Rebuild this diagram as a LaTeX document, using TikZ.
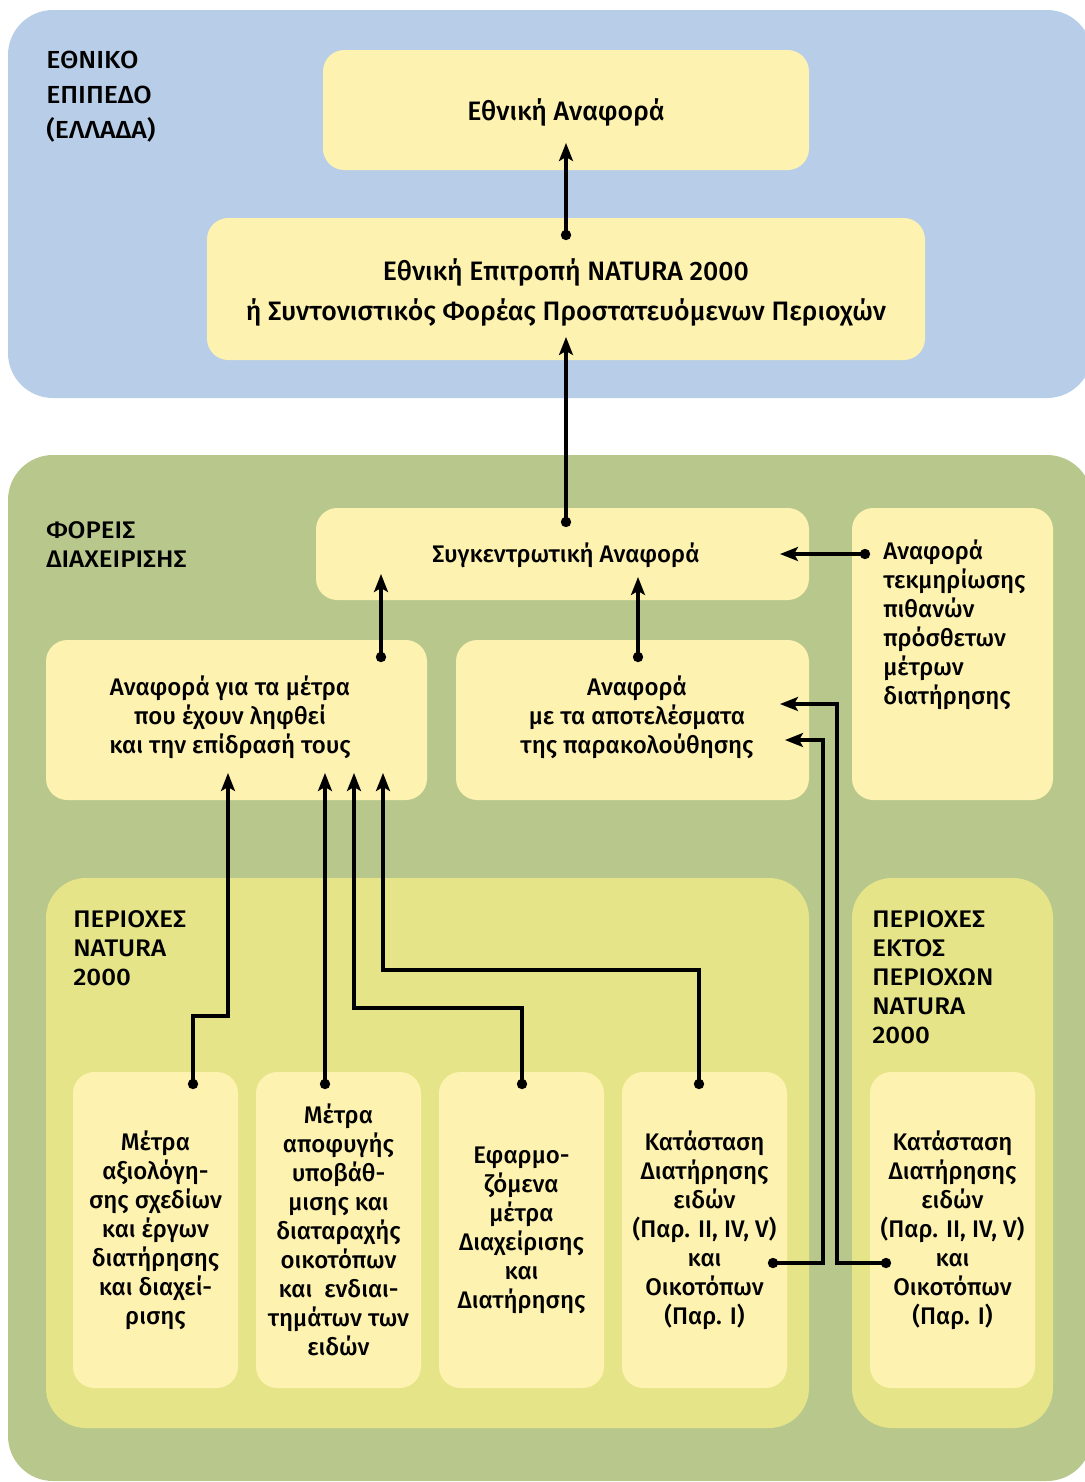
\documentclass[tikz,border=0pt]{standalone}
\usepackage{fontspec}
\setmainfont{Fira Sans}[UprightFont={* Medium}]
\newfontfamily\capsfont{Fira Sans}[UprightFont={* Medium}, FakeStretch=1.08]
\usetikzlibrary{arrows.meta}
\definecolor{cblue}{RGB}{184,205,232}
\definecolor{cgreen}{RGB}{184,200,140}
\definecolor{clime}{RGB}{229,228,136}
\definecolor{cbox}{RGB}{254,242,176}
\newcommand\txtfont{\fontsize{18}{21.75}\selectfont}
\newcommand\capfont{\capsfont\fontsize{18}{21.75}\selectfont}
\newcommand\topfont{\fontsize{20}{30}\selectfont}
\begin{document}
\begin{tikzpicture}[x=0.75pt,y=-0.75pt,
  sub/.style={fill=clime, inner sep=0pt, rounded corners=30pt},
  box/.style={fill=cbox, inner sep=0pt, rounded corners=16pt, align=center, font=\txtfont},
  lbl/.style={inner sep=0pt, align=left, font=\capfont},
  ctext/.style={inner sep=0pt, align=center, font=\txtfont},
  dot/.style={circle, fill=black, inner sep=0pt, minimum size=7.8pt},
  conn/.style={line width=2.3pt, -{Stealth[length=13.5pt,width=10.5pt,inset=3pt]}}
]
\useasboundingbox (0,0) rectangle (1085,1482);
% background regions
\fill[cblue, rounded corners=33.75pt] (8,10) rectangle (1092,398);
\fill[cgreen, rounded corners=33.75pt] (8,455) rectangle (1092,1481);
% sub regions
\node[sub, minimum width=763*0.75pt, minimum height=550*0.75pt] (nreg) at (427.5,1153) {};
\node[sub, minimum width=201*0.75pt, minimum height=550*0.75pt] (oreg) at (952.5,1153) {};
% boxes
\node[box, minimum width=486*0.75pt, minimum height=120*0.75pt] (nat) at (566,110) {};
\node[box, minimum width=718*0.75pt, minimum height=142*0.75pt] (com) at (566,289) {};
\node[box, minimum width=493*0.75pt, minimum height=92*0.75pt] (sum) at (562.5,554) {};
\node[box, minimum width=201*0.75pt, minimum height=292*0.75pt] (doc) at (952.5,654) {};
\node[box, minimum width=381*0.75pt, minimum height=160*0.75pt] (mea) at (236.5,720) {};
\node[box, minimum width=353*0.75pt, minimum height=160*0.75pt] (mon) at (632.5,720) {};
\node[box, minimum width=165*0.75pt, minimum height=316*0.75pt] (b1) at (155.5,1230)
  {Μέτρα\\αξιολόγη-\\σης σχεδίων\\και έργων\\διατήρησης\\και διαχεί-\\ρισης};
\node[box, minimum width=165*0.75pt, minimum height=316*0.75pt] (b2) at (338.5,1230)
  {Μέτρα\\αποφυγής\\υποβάθ-\\μισης και\\διαταραχής\\οικοτόπων\\και~ ενδιαι-\\τημάτων των\\ειδών};
\node[box, minimum width=165*0.75pt, minimum height=316*0.75pt] (b3) at (521.5,1230)
  {Εφαρμο-\\ζόμενα\\μέτρα\\Διαχείρισης\\και\\Διατήρησης};
\node[box, minimum width=165*0.75pt, minimum height=316*0.75pt] (b4) at (704.5,1230)
  {Κατάσταση\\Διατήρησης\\ειδών\\(Παρ. II, IV, V)\\και\\Οικοτόπων\\(Παρ. I)};
\node[box, minimum width=165*0.75pt, minimum height=316*0.75pt] (b5) at (952.5,1230)
  {Κατάσταση\\Διατήρησης\\ειδών\\(Παρ. II, IV, V)\\και\\Οικοτόπων\\(Παρ. I)};
% texts
\node[ctext, font=\topfont] (tnat) at (566,112) {Εθνική Αναφορά};
\node[ctext, font=\topfont] (tcom) at (566,292)
  {Εθνική Επιτροπή NATURA 2000\\ή Συντονιστικός Φορέας Προστατευόμενων Περιοχών};
\node[ctext] (tsum) at (566,555) {Συγκεντρωτική Αναφορά};
\node[lbl, anchor=west, font=\capsfont\fontsize{18.5}{26.25}\selectfont] (l1) at (46,97) {ΕΘΝΙΚΟ\\ΕΠΙΠΕΔΟ\\(ΕΛΛΑΔΑ)};
\node[lbl, anchor=west] (l2) at (46,545) {ΦΟΡΕΙΣ\\ΔΙΑΧΕΙΡΙΣΗΣ};
\node[lbl, anchor=west] (l3) at (73,948) {ΠΕΡΙΟΧΕΣ\\NATURA\\2000};
\node[lbl, anchor=west] (l4) at (872,977) {ΠΕΡΙΟΧΕΣ\\ΕΚΤΟΣ\\ΠΕΡΙΟΧΩΝ\\NATURA\\2000};
\node[ctext, align=left, anchor=west] (tdoc) at (883,625) {Αναφορά\\τεκμηρίωσης\\πιθανών\\πρόσθετων\\μέτρων\\διατήρησης};
\node[ctext] (tmea) at (230,717) {Αναφορά για τα μέτρα\\που έχουν ληφθεί\\και την επίδρασή τους};
\node[ctext] (tmon) at (637,717) {Αναφορά\\με τα αποτελέσματα\\της παρακολούθησης};
% dots
\node[dot] (p1) at (566,235) {};
\node[dot] (p2) at (566,522) {};
\node[dot] (p3) at (381,657) {};
\node[dot] (p4) at (638,657) {};
\node[dot] (p5) at (865,554) {};
\node[dot] (p6) at (193,1084) {};
\node[dot] (p7) at (325,1084) {};
\node[dot] (p8) at (522,1084) {};
\node[dot] (p9) at (699,1084) {};
\node[dot] (p10) at (773,1263) {};
\node[dot] (p11) at (886,1263) {};
% arrow targets
\coordinate (t1) at (566,143);
\coordinate (t2) at (566,337);
\coordinate (t3) at (381,574);
\coordinate (t4) at (638,577);
\coordinate (t5) at (780,554);
\coordinate (t6) at (228,773);
\coordinate (t7) at (325,773);
\coordinate (t8) at (354,773);
\coordinate (t9) at (383,773);
\coordinate (t10) at (785,740);
\coordinate (t11) at (780,704);
% connectors
\draw[conn] (p1.center) -- (t1);
\draw[conn] (p2.center) -- (t2);
\draw[conn] (p3.center) -- (t3);
\draw[conn] (p4.center) -- (t4);
\draw[conn] (p5.center) -- (t5);
\draw[conn] (p6.center) -- (193,1016) -- (228,1016) -- (t6);
\draw[conn] (p7.center) -- (t7);
\draw[conn] (p8.center) -- (522,1008) -- (354,1008) -- (t8);
\draw[conn] (p9.center) -- (699,970) -- (383,970) -- (t9);
\draw[conn] (p10.center) -- (823,1263) -- (823,740) -- (t10);
\draw[conn] (p11.center) -- (837,1263) -- (837,704) -- (t11);
\end{tikzpicture}
\end{document}
